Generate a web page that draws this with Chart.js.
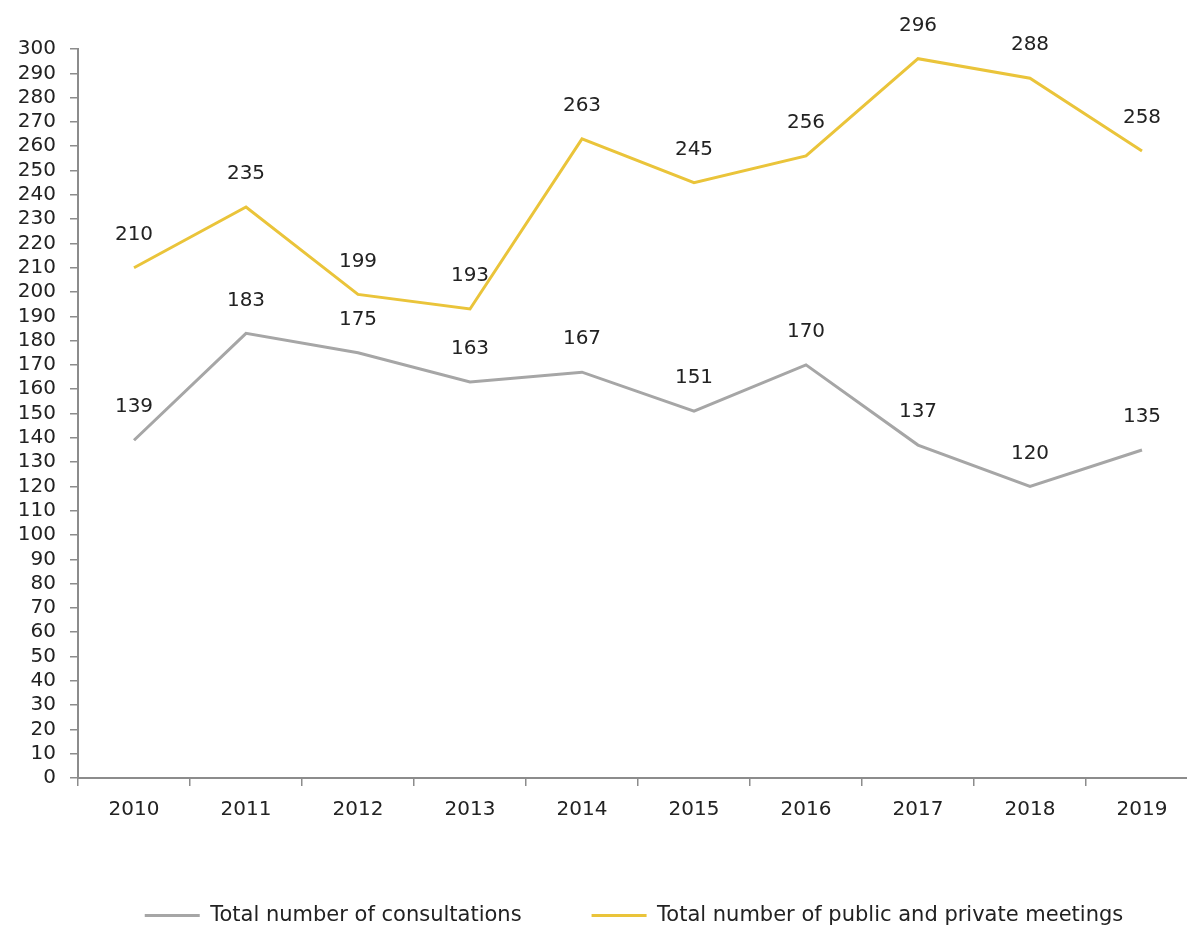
<!DOCTYPE html>
<html>
<head>
<meta charset="utf-8">
<script src="https://cdn.jsdelivr.net/npm/chart.js@4.4.1/dist/chart.umd.min.js"></script>
<style>
  html, body { margin: 0; padding: 0; background: #fff; overflow: hidden; }
  #wrap { position: absolute; left: 0; top: 0; width: 1198px; height: 925px; }
</style>
</head>
<body>
<div id="wrap"><canvas id="chart"></canvas></div>
<script>
const YEARS = ['2010', '2011', '2012', '2013', '2014', '2015', '2016', '2017', '2018', '2019'];
const CONSULTATIONS = [139, 183, 175, 163, 167, 151, 170, 137, 120, 135];
const MEETINGS = [210, 235, 199, 193, 263, 245, 256, 296, 288, 258];

const GREY = '#a6a6a6';
const GOLD = '#eac43a';
const AXIS = '#8c8c8c';
const TEXT = '#222222';
const FONT = '"DejaVu Sans"';

// numbers drawn above each point
const valueLabels = {
  id: 'valueLabels',
  afterDatasetsDraw(chart) {
    const ctx = chart.ctx;
    ctx.save();
    ctx.font = '20px ' + FONT;
    ctx.fillStyle = TEXT;
    ctx.textAlign = 'center';
    ctx.textBaseline = 'middle';
    chart.data.datasets.forEach((ds, i) => {
      chart.getDatasetMeta(i).data.forEach((pt, j) => {
        ctx.fillText(String(ds.data[j]), pt.x, pt.y - 33);
      });
    });
    ctx.restore();
  },
};

// legend in the original sits a bit right of centre
const legendShift = {
  id: 'legendShift',
  afterLayout(chart) {
    chart.legend.left += 35;
    chart.legend.right += 35;
  },
};

new Chart(document.getElementById('chart'), {
  type: 'line',
  data: {
    labels: YEARS,
    datasets: [
      {
        label: 'Total number of consultations',
        data: CONSULTATIONS,
        borderColor: GREY,
        backgroundColor: GREY,
        borderWidth: 3,
        pointRadius: 0,
        tension: 0,
      },
      {
        label: 'Total number of public and private meetings',
        data: MEETINGS,
        borderColor: GOLD,
        backgroundColor: GOLD,
        borderWidth: 3,
        pointRadius: 0,
        tension: 0,
      },
    ],
  },
  options: {
    responsive: true,
    maintainAspectRatio: false,
    animation: false,
    layout: { padding: { top: 49, right: 0, bottom: -11, left: 0 } },
    plugins: {
      tooltip: { enabled: false },
      legend: {
        position: 'bottom',
        labels: {
          usePointStyle: true,
          pointStyle: 'line',
          pointStyleWidth: 55,
          boxWidth: 55,
          padding: 70,
          color: TEXT,
          font: { family: FONT, size: 21 },
        },
      },
    },
    scales: {
      x: {
        offset: true,
        afterFit: (s) => { s.height = 57; },
        border: { color: AXIS, width: 2 },
        grid: { offset: true, drawOnChartArea: false, drawTicks: true, tickLength: 8, color: AXIS, lineWidth: 1.5 },
        ticks: { color: TEXT, font: { family: FONT, size: 20 }, padding: 12, maxRotation: 0 },
      },
      y: {
        min: 0,
        max: 300,
        afterFit: (s) => { s.width = 78; },
        border: { color: AXIS, width: 2 },
        grid: { drawOnChartArea: false, drawTicks: true, tickLength: 8, color: AXIS, lineWidth: 1.5 },
        ticks: { stepSize: 10, autoSkip: false, color: TEXT, font: { family: FONT, size: 20 }, padding: 14 },
      },
    },
  },
  plugins: [valueLabels, legendShift],
});
</script>
</body>
</html>
